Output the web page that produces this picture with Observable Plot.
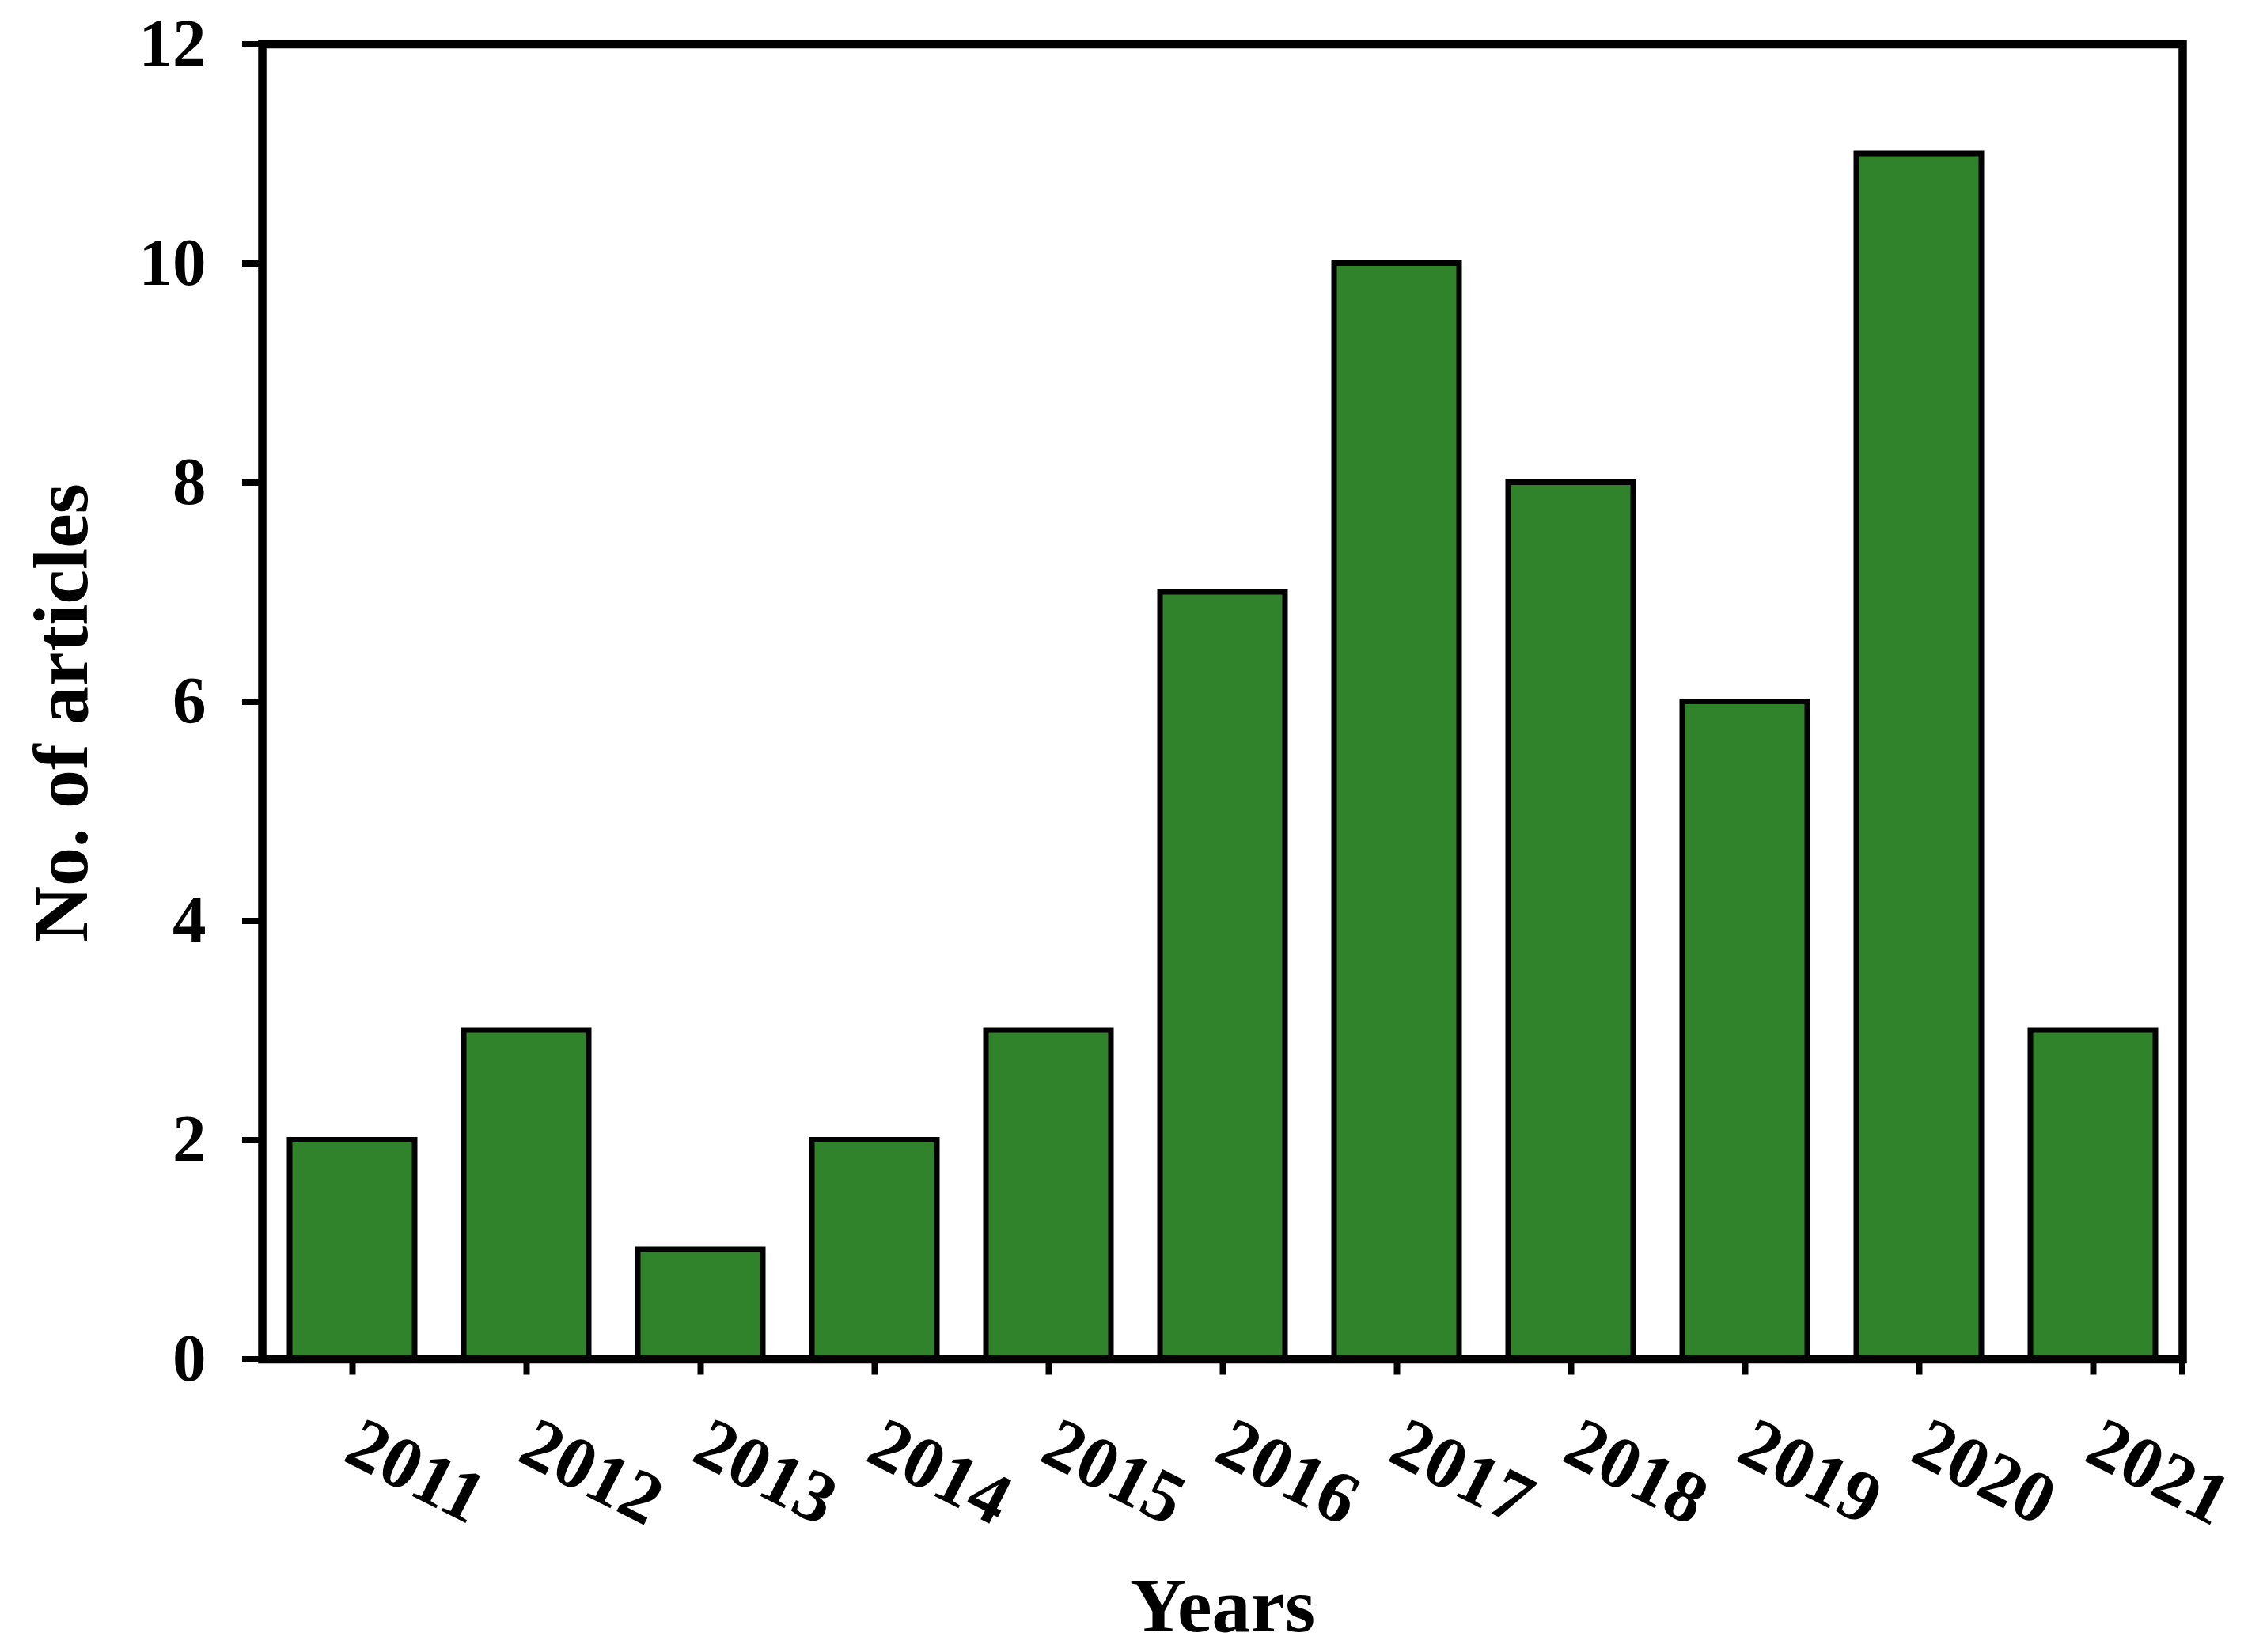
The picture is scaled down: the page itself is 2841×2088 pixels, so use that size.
<!DOCTYPE html>
<html>
<head>
<meta charset="utf-8">
<script src="https://cdn.jsdelivr.net/npm/d3@7"></script>
<script src="https://cdn.jsdelivr.net/npm/@observablehq/plot@0.6"></script>
<style>
  html, body { margin: 0; padding: 0; background: #fff; }
</style>
</head>
<body>
<div id="chart"></div>
<script>
const years = ["2011", "2012", "2013", "2014", "2015", "2016", "2017", "2018", "2019", "2020", "2021"];
const articles = [2, 3, 1, 2, 3, 7, 10, 8, 6, 11, 3];
const yTicks = [0, 2, 4, 6, 8, 10, 12];
const xTitle = "Years";
const yTitle = "No. of articles";

const data = years.map((year, i) => ({year, count: articles[i]}));

const FONT = "'Liberation Serif', 'Times New Roman', serif";

function endTick(index, scales, values, dimensions) {
  const {width, height, marginRight, marginBottom} = dimensions;
  const g = d3.create("svg:g");
  g.append("line")
    .attr("x1", width - marginRight).attr("x2", width - marginRight)
    .attr("y1", height - marginBottom).attr("y2", height - marginBottom + 20)
    .attr("stroke", "black").attr("stroke-width", 8);
  return g.node();
}

const chart = Plot.plot({
  width: 2841,
  height: 2088,
  marginLeft: 331,
  marginRight: 83,
  marginTop: 55.5,
  marginBottom: 370.5,
  style: {fontFamily: FONT, fontWeight: "bold", fontSize: "85px", color: "black", background: "white"},
  x: {domain: years, paddingInner: 0.284, paddingOuter: 0.142, label: null},
  y: {domain: [0, 12], label: null},
  marks: [
    Plot.barY(data, {x: "year", y: "count", fill: "#31832b", stroke: "black", strokeWidth: 7}),
    Plot.frame({stroke: "black", strokeWidth: 10.5}),
    Plot.axisY({ticks: yTicks, tickSize: 25, tickPadding: 46, strokeWidth: 8, fontSize: 85, fontWeight: "bold", label: null}),
    Plot.axisX({ticks: years, tickSize: 20, strokeWidth: 8, tickFormat: () => "", label: null}),
    endTick,
    Plot.text(data, {x: "year", text: "year", frameAnchor: "bottom", rotate: 27, textAnchor: "start", lineAnchor: "bottom", dx: -14, dy: 127, fontSize: 93, fontWeight: "bold"}),
    Plot.text([xTitle], {text: d => d, frameAnchor: "bottom", textAnchor: "middle", lineAnchor: "bottom", dy: 344, fontSize: 98, fontWeight: "bold"}),
    Plot.text([yTitle], {text: d => d, frameAnchor: "left", rotate: -90, textAnchor: "middle", lineAnchor: "bottom", dx: -222, dy: 14, fontSize: 98, fontWeight: "bold"})
  ]
});

document.getElementById("chart").append(chart);
</script>
</body>
</html>
